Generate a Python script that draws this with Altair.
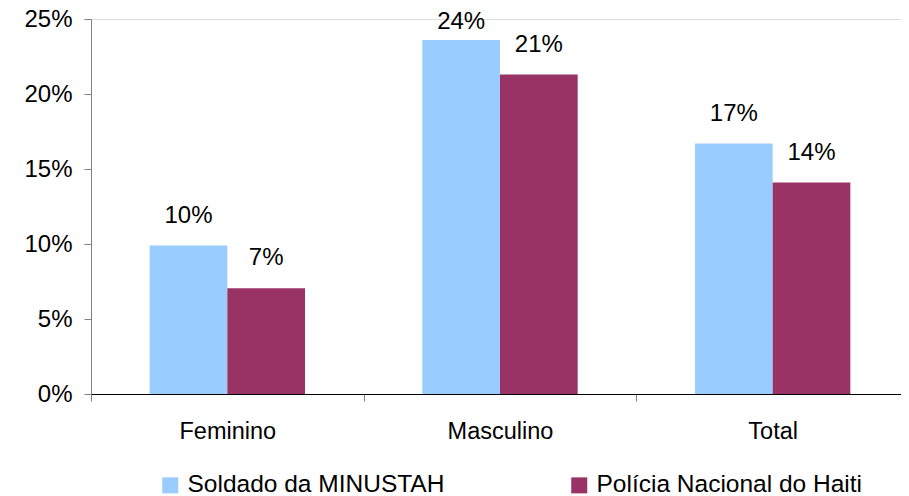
import altair as alt
import pandas as pd

categories = ["Feminino", "Masculino", "Total"]
series = ["Soldado da MINUSTAH", "Polícia Nacional do Haiti"]
soldado = [0.099, 0.236, 0.167]
policia = [0.0705, 0.213, 0.141]
colors = ["#99CCFF", "#993366"]
y_ticks = [0, 0.05, 0.10, 0.15, 0.20, 0.25]

rows = []
for i, c in enumerate(categories):
    rows.append({"cat": c, "serie": series[0], "value": soldado[i]})
    rows.append({"cat": c, "serie": series[1], "value": policia[i]})
df = pd.DataFrame(rows)

FONT = "Liberation Sans"
FS = 24

x = alt.X("cat:N", sort=categories, title=None,
          scale=alt.Scale(paddingInner=0, paddingOuter=0),
          axis=alt.Axis(labelAngle=0, labelFontSize=FS - 0.5, labelFont=FONT, labelColor="black",
                        tickBand="extent", tickSize=7, tickColor="#808080",
                        domainColor="black", labelPadding=18, grid=False))
xoff = alt.XOffset("serie:N", sort=series,
                   scale=alt.Scale(paddingInner=0, paddingOuter=0.755))
y = alt.Y("value:Q", title=None,
          scale=alt.Scale(domain=[0, 0.25], nice=False),
          axis=alt.Axis(values=y_ticks, format=".0%", labelFontSize=FS, labelFont=FONT,
                        labelColor="black", tickSize=7, tickColor="#808080",
                        domainColor="#808080", labelPadding=12, grid=False))
color = alt.Color("serie:N", sort=series, title=None,
                  scale=alt.Scale(domain=series, range=colors),
                  legend=alt.Legend(orient="none", legendX=67, legendY=454, direction="horizontal",
                                    symbolType="square", symbolSize=256, symbolStrokeWidth=0,
                                    labelFontSize=24.5, labelFont=FONT, labelColor="black",
                                    labelLimit=0, columnPadding=122, labelOffset=5, padding=0))

bars = alt.Chart(df).mark_bar().encode(x=x, xOffset=xoff, y=y, color=color)
labels = alt.Chart(df).transform_calculate(
    ly="min(datum.value, 0.228)"
).mark_text(font=FONT, fontSize=FS, color="black", baseline="alphabetic", dy=-23).encode(
    x=x, xOffset=xoff, y=alt.Y("ly:Q"), text=alt.Text("value:Q", format=".0%"))

chart = (bars + labels).properties(
    width=818, height=375,
    autosize=alt.AutoSizeParams(type="none"),
    padding={"left": 83, "top": 11, "right": -8, "bottom": 102},
).configure_view(stroke=None).configure(background="white")

chart.save("out.html", embed_options={"renderer": "svg", "actions": False})
